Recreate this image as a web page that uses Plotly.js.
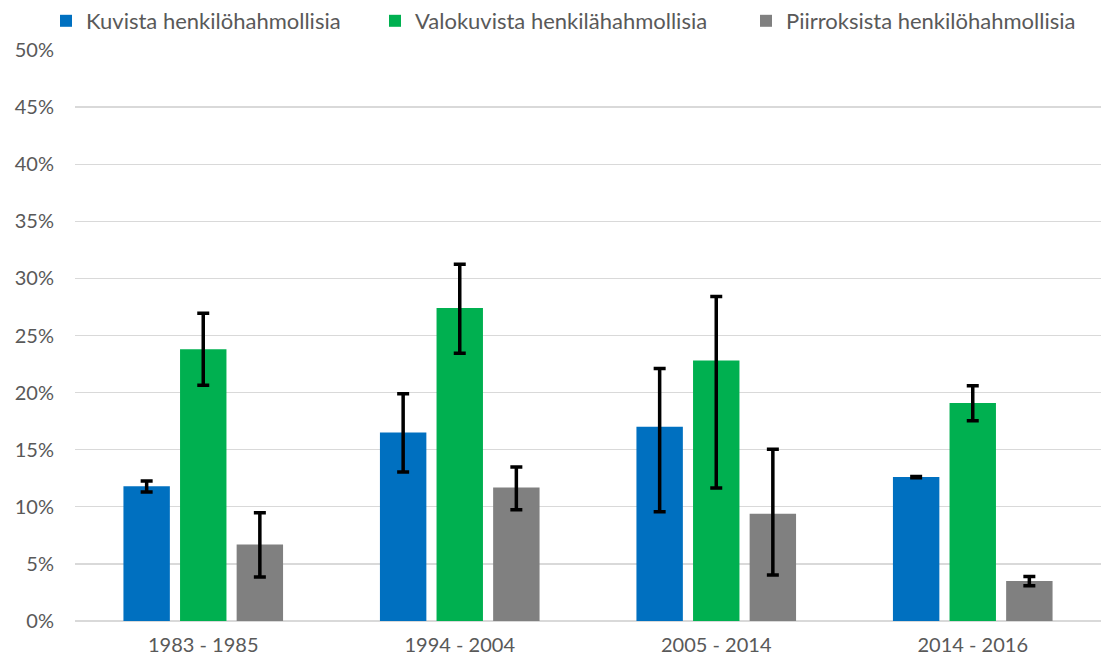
<!DOCTYPE html>
<html>
<head>
<meta charset="utf-8">
<script src="https://cdn.plot.ly/plotly-3.0.1.min.js"></script>
<style>html,body{margin:0;padding:0;background:#fff;}#chart{width:1101px;height:663px;}</style>
</head>
<body>
<div id="chart"></div>
<script>
const categories = ["1983 - 1985", "1994 - 2004", "2005 - 2014", "2014 - 2016"];
const seriesNames = ["Kuvista henkilöhahmollisia", "Valokuvista henkilähahmollisia", "Piirroksista henkilöhahmollisia"];
const kuvista = [11.8, 16.5, 17.0, 12.6];
const kuvistaErrPlus = [0.46, 3.4, 5.1, 0.05];
const kuvistaErrMinus = [0.5, 3.45, 7.43, 0.05];
const valokuvista = [23.8, 27.4, 22.8, 19.1];
const valokuvistaErrPlus = [3.15, 3.85, 5.62, 1.5];
const valokuvistaErrMinus = [3.15, 3.95, 11.16, 1.56];
const piirroksista = [6.7, 11.7, 9.4, 3.5];
const piirroksistaErrPlus = [2.77, 1.78, 5.63, 0.4];
const piirroksistaErrMinus = [2.85, 1.96, 5.37, 0.42];
const colors = ["#0070C0", "#00B050", "#808080"];
const yTicks = [0, 5, 10, 15, 20, 25, 30, 35, 40, 45, 50];

const FONT = "Lato, 'Liberation Sans', sans-serif";
const TXT = "#595959";

function mk(name, y, plus, minus, color, leg) {
  return {
    type: "bar", name: name, x: categories, y: y, legend: leg,
    marker: {color: color, line: {width: 0}},
    error_y: {type: "data", symmetric: false, array: plus, arrayminus: minus,
              color: "#000000", thickness: 3.5, width: 6},
    hoverinfo: "skip"
  };
}
const data = [
  mk(seriesNames[0], kuvista, kuvistaErrPlus, kuvistaErrMinus, colors[0], "legend"),
  mk(seriesNames[1], valokuvista, valokuvistaErrPlus, valokuvistaErrMinus, colors[1], "legend2"),
  mk(seriesNames[2], piirroksista, piirroksistaErrPlus, piirroksistaErrMinus, colors[2], "legend3")
];
function leg(xpx) {
  return {orientation: "h", xref: "container", yref: "container",
          x: xpx / 1101, y: 1.0, xanchor: "left", yanchor: "top",
          font: {family: FONT, size: 22, color: TXT}, itemwidth: 30,
          bgcolor: "rgba(0,0,0,0)"};
}
const layout = {
  width: 1101, height: 663,
  margin: {l: 75, r: 0, t: 50, b: 42, pad: 0},
  paper_bgcolor: "#ffffff", plot_bgcolor: "#ffffff",
  font: {family: FONT, size: 20, color: TXT},
  barmode: "group", bargap: 0.338, bargroupgap: 0.18,
  showlegend: true,
  legend: leg(46), legend2: leg(375), legend3: leg(746),
  xaxis: {type: "category", showgrid: false, zeroline: false, showline: false,
          ticks: "", ticklabelstandoff: 10, tickfont: {family: FONT, size: 20, color: TXT}},
  yaxis: {range: [0, 50], tickvals: yTicks, ticktext: yTicks.map(v => v + "%"),
          showgrid: true, gridcolor: "#D9D9D9", gridwidth: 1.3,
          zeroline: true, zerolinecolor: "#D9D9D9", zerolinewidth: 1.3,
          showline: false, ticks: "", ticklabelstandoff: 20,
          tickfont: {family: FONT, size: 20, color: TXT}}
};
Plotly.newPlot("chart", data, layout, {displayModeBar: false, staticPlot: true});
</script>
</body>
</html>
